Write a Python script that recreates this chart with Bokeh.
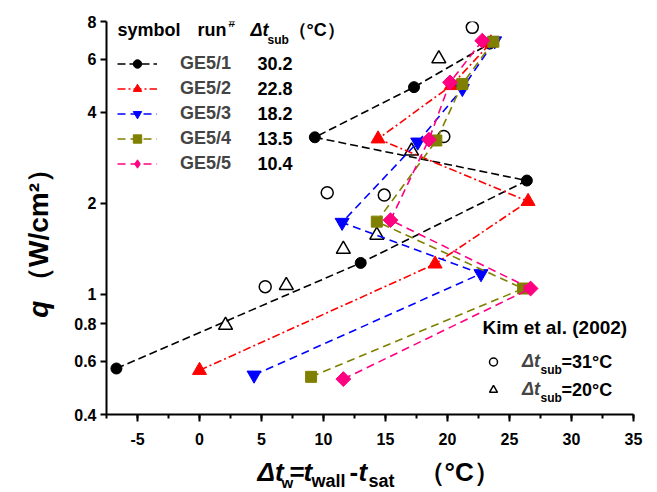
import numpy as np
from bokeh.plotting import figure
from bokeh.layouts import column, row
from bokeh.core.properties import value
from bokeh.models import (Range1d, FixedTicker, SingleIntervalTicker, CustomJSTickFormatter,
                          Label, Legend, LegendItem)
from bokeh.embed import file_html
from bokeh.resources import INLINE

# ---------------- data ----------------
runs = ["GE5/1", "GE5/2", "GE5/3", "GE5/4", "GE5/5"]
dt_sub = ["30.2", "22.8", "18.2", "13.5", "10.4"]

ge1_x = [-6.7, 13.0, 26.4, 9.3, 17.3, 23.4]
ge1_q = [0.568, 1.27, 2.38, 3.31, 4.85, 6.76]
ge2_x = [0.0, 19.0, 26.5, 14.4, 20.3, 23.5]
ge2_q = [0.56, 1.26, 2.03, 3.27, 4.91, 6.8]
ge3_x = [4.4, 22.7, 11.5, 17.6, 21.2, 23.8]
ge3_q = [0.54, 1.17, 1.73, 3.19, 4.8, 6.9]
ge4_x = [9.0, 26.1, 14.3, 19.1, 21.2, 23.7]
ge4_q = [0.533, 1.045, 1.74, 3.23, 4.97, 6.86]
ge5_x = [11.6, 26.7, 15.4, 18.5, 20.2, 22.8]
ge5_q = [0.524, 1.045, 1.76, 3.25, 5.03, 6.91]

kim31_x = [5.3, 10.3, 14.9, 19.7, 22.0]
kim31_q = [1.06, 2.17, 2.13, 3.33, 7.65]
kim20_x = [2.1, 7.0, 11.6, 14.3, 17.1, 19.3]
kim20_q = [0.79, 1.07, 1.41, 1.57, 2.98, 6.02]

y_ticks = [0.4, 0.6, 0.8, 1, 2, 4, 6, 8]

series_x = [ge1_x, ge2_x, ge3_x, ge4_x, ge5_x]
series_q = [ge1_q, ge2_q, ge3_q, ge4_q, ge5_q]

# ---------------- styles ----------------
colors = ["#000000", "#FF0000", "#0000FF", "#808000", "#FF0080"]
dashes = ["8 4", "8 3 2 3", "8 5", "8 5", "8 5"]
markers = ["circle", "triangle", "inverted_triangle", "square", "square"]
msizes = [11, 14, 14, 11, 10.5]
mangles = [0, 0, 0, 0, np.pi / 4]
FONT = "Liberation Sans"
MID = 0.35  # baseline -> middle offset (fraction of font size)

p = figure(width=601, height=452, x_range=Range1d(-7.5, 35), y_range=Range1d(0.4, 8),
           y_axis_type="log", output_backend="svg", toolbar_location=None, title=None,
           min_border_left=50, min_border_right=24, min_border_top=21, min_border_bottom=38)
p.outline_line_color = None
p.xgrid.visible = False
p.ygrid.visible = False

# axes
p.xaxis.ticker = SingleIntervalTicker(interval=5, num_minor_ticks=2)
p.xaxis.formatter = CustomJSTickFormatter(code="return tick.toString();")
p.yaxis.ticker = FixedTicker(ticks=y_ticks, minor_ticks=[])
p.yaxis.formatter = CustomJSTickFormatter(code="return tick.toString();")
for ax in (p.xaxis, p.yaxis):
    ax.axis_line_width = 2
    ax.major_tick_line_width = 2
    ax.minor_tick_line_width = 2
    ax.major_tick_in = 0
    ax.minor_tick_in = 0
    ax.minor_tick_out = 4
    ax.major_label_text_font = FONT
    ax.major_label_text_font_size = "16px"
    ax.major_label_text_font_style = "bold"
    ax.major_label_text_color = "black"
    ax.axis_label = None
p.xaxis.major_tick_out = 7
p.xaxis.major_label_standoff = 11
p.yaxis.major_tick_out = 6
p.yaxis.major_label_standoff = 4

# Kim et al. data (open symbols)
kc = p.scatter(kim31_x, kim31_q, marker="circle", size=12, fill_color=None,
               line_color="black", line_width=1.5)
kt = p.scatter(kim20_x, kim20_q, marker="triangle", size=14, fill_color=None,
               line_color="black", line_width=1.5)

# GE series
line_rs, mark_rs = [], []
for i in range(5):
    lr = p.line(series_x[i], series_q[i], line_color=colors[i], line_width=1.6,
                line_dash=dashes[i])
    mr = p.scatter(series_x[i], series_q[i], marker=markers[i], size=msizes[i],
                   angle=mangles[i], fill_color=colors[i], line_color=colors[i])
    line_rs.append(lr)
    mark_rs.append(mr)

# the legend cannot rotate a square: a hidden diamond twin of GE5/5 serves as its legend symbol
ge5_leg = p.scatter(ge5_x, ge5_q, marker="diamond", size=16, fill_color=colors[4],
                    line_color=colors[4], visible=False)
leg_syms = mark_rs[:4] + [ge5_leg]

# main legend (symbol + run#)
leg = Legend(items=[LegendItem(label=runs[i], renderers=[line_rs[i], leg_syms[i]]) for i in range(5)],
             location=(11, 240), orientation="vertical", padding=0, margin=0, spacing=4,
             glyph_width=40, glyph_height=21, label_height=21, label_standoff=23,
             label_text_font=FONT, label_text_font_size="18px", label_text_font_style="bold",
             border_line_color=None, background_fill_alpha=0, inactive_fill_alpha=0)
p.add_layout(leg)

# Kim legend
leg2 = Legend(items=[LegendItem(label="\u0394t", renderers=[kc]),
                     LegendItem(label="\u0394t", renderers=[kt])],
              location=(377, 14), orientation="vertical", padding=0, margin=0, spacing=7,
              glyph_width=20, glyph_height=21, label_height=21, label_standoff=19,
              label_text_font=FONT, label_text_font_size="18px",
              label_text_font_style="bold italic",
              border_line_color=None, background_fill_alpha=0)
p.add_layout(leg2)

# ---------------- in-frame texts (page pixel positions -> frame screen units) ----------------
FL, FB = 106, 414


def lab(text, sx, sy, size, style="bold"):
    """sx = left edge, sy = baseline, in page pixels"""
    p.add_layout(Label(x=sx - FL, y=FB - (sy - MID * size), x_units="screen", y_units="screen",
                       text=text, text_font=FONT, text_font_size=f"{size}px",
                       text_font_style=style, text_color="black", text_align="left",
                       text_baseline="middle"))


# legend header
lab("symbol", 117, 36, 18)
lab("run", 197, 36, 18)
lab("#", 228, 27, 12)
lab("\u0394t", 250, 36, 18, "bold italic")
lab("sub", 267, 44, 12)
lab("\uff08\u00b0C\uff09", 288, 36, 18)

# legend values
row_centers = [62.5, 87.5, 112.5, 137.5, 162.5]
for i in range(5):
    lab(dt_sub[i], 257, row_centers[i] + 6.3, 18)

# Kim legend texts
lab("Kim et al. (2002)", 482, 334, 19)
lab("sub", 540, 374, 12)
lab("=31\u00b0C", 561, 367.5, 18)
lab("sub", 540, 402, 12)
lab("=20\u00b0C", 561, 395.5, 18)


# ---------------- axis-title strips ----------------
def strip(w, h):
    f = figure(width=w, height=h, x_range=Range1d(0, w), y_range=Range1d(h, 0),
               output_backend="svg", toolbar_location=None, title=None, min_border=0,
               x_axis_location=None, y_axis_location=None)
    f.outline_line_color = None
    f.grid.visible = False
    return f


def txt(f, t, x, y, size, style="bold", y0=0):
    """horizontal text: x = left edge, y = baseline, in page pixels"""
    f.text(x=[x], y=[y - MID * size - y0], text=[t], text_font=value(FONT),
           text_font_size=f"{size}px", text_font_style=style, text_color="black",
           text_align="left", text_baseline="middle")


def vtxt(f, t, cx, cy, size, style="bold"):
    """vertical text (reads bottom to top), centred near page pixel (cx, cy)"""
    f.text(x=[cx], y=[cy], text=[t], text_font=value(FONT), text_font_size=f"{size}px",
           text_font_style=style, text_color="black", angle=np.pi / 2,
           text_align="center", text_baseline="middle")


# y title strip: page x 0..56, y 0..452
yl = strip(56, 452)
vtxt(yl, "q", 38, 331, 28, "bold italic")
vtxt(yl, "\uff08W/cm\u00b2\uff09", 38, 234, 28, "bold")

# x title strip: page x 0..657, y 452..492
xl = strip(657, 40)
Y0 = 452
txt(xl, "\u0394t", 257, 481, 26, "bold italic", y0=Y0)
txt(xl, "w", 281, 487, 15, y0=Y0)
txt(xl, "=", 289, 481, 26, y0=Y0)
txt(xl, "t", 303, 481, 26, "bold italic", y0=Y0)
txt(xl, "wall", 311, 487, 18, y0=Y0)
txt(xl, "-", 349, 481, 26, y0=Y0)
txt(xl, "t", 358, 481, 26, "bold italic", y0=Y0)
txt(xl, "sat", 368, 487, 18, y0=Y0)
txt(xl, "\uff08\u00b0C\uff09", 418, 481, 26, y0=Y0)

layout = column(row(yl, p), xl)
open("out.html", "w").write(file_html(layout, INLINE))
